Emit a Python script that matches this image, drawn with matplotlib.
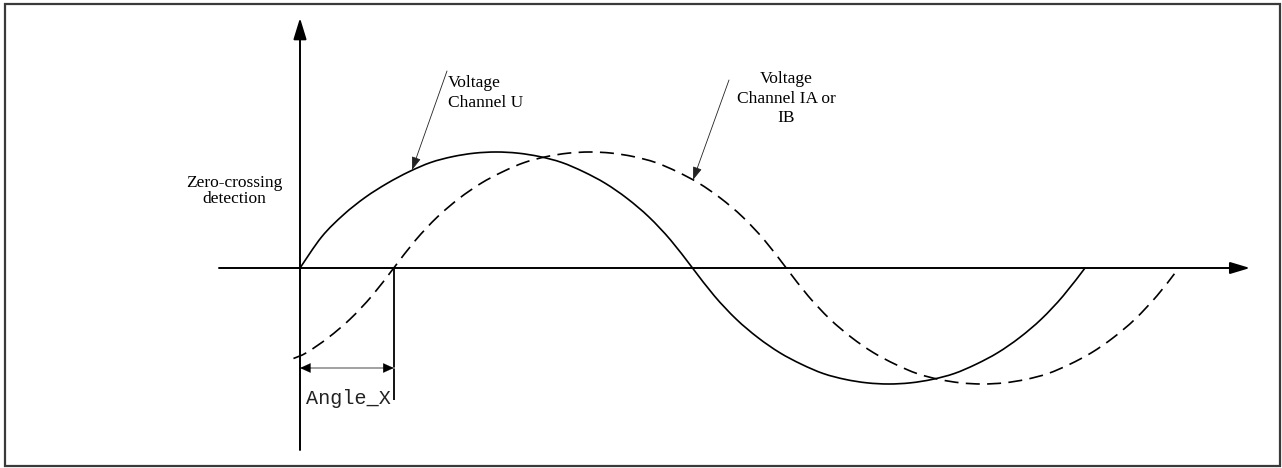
import numpy as np
import matplotlib
matplotlib.use("Agg")
import matplotlib.pyplot as plt
from matplotlib.path import Path
from matplotlib.patches import PathPatch, Rectangle

# ---------------- data ----------------
# phase in degrees, amplitude normalised to the peak
phase_deg = [0, 10, 20, 30, 40, 50, 60, 70, 80, 90, 100, 110, 120, 130, 140, 150,
             160, 170, 180, 190, 200, 210, 220, 230, 240, 250, 260, 270, 280, 290,
             300, 310, 320, 330, 340, 350, 360]
u_values = [0.00, 0.27, 0.46, 0.61, 0.73, 0.83, 0.91, 0.96, 0.99, 1.00, 0.99, 0.96,
            0.91, 0.83, 0.73, 0.60, 0.44, 0.24, 0.00, -0.24, -0.44, -0.60, -0.73,
            -0.83, -0.91, -0.96, -0.99, -1.00, -0.99, -0.96, -0.91, -0.83, -0.73,
            -0.60, -0.44, -0.24, 0.00]

ia_phase_deg = [-46, -40, -30, -20, -10, 0, 10, 20, 30, 40, 50, 60, 70, 80, 90, 100,
                110, 120, 130, 140, 150, 160, 170, 180, 190, 200, 210, 220, 230, 240,
                250, 260, 270, 280, 290, 300, 310, 320, 330, 340, 350, 358]
ia_values = [-0.78, -0.73, -0.60, -0.44, -0.24, 0.00, 0.24, 0.44, 0.60, 0.73, 0.83,
             0.91, 0.96, 0.99, 1.00, 0.99, 0.96, 0.91, 0.83, 0.73, 0.60, 0.44, 0.24,
             0.00, -0.24, -0.44, -0.60, -0.73, -0.83, -0.91, -0.96, -0.99, -1.00,
             -0.99, -0.96, -0.91, -0.83, -0.73, -0.60, -0.44, -0.24, -0.05]

angle_x_deg = 43  # phase lag of channel IA/IB

label_u = ["Voltage", "Channel U"]
label_ia = ["Voltage", "Channel IA or", "IB"]
label_zc = ["Zero-crossing", "detection"]
label_angle = "Angle_X"

# ---------------- layout ----------------
W, H = 1282, 468
X0, Y0 = 300, 268              # pixel position of the origin
PX_PER_DEG = 785 / 360
PX_PER_UNIT = 116

fig = plt.figure(figsize=(W / 100, H / 100), dpi=100)
fig.patch.set_facecolor("white")
ax = fig.add_axes([0, 0, 1, 1])
ax.set_xlim(-X0 / PX_PER_DEG, (W - X0) / PX_PER_DEG)
ax.set_ylim((Y0 - H) / PX_PER_UNIT, Y0 / PX_PER_UNIT)
ax.axis("off")


def px(x, y):
    """pixel position -> data position (layout helper)"""
    return ((x - X0) / PX_PER_DEG, (Y0 - y) / PX_PER_UNIT)


def smooth_path(xs, ys):
    pts = np.column_stack([xs, ys]).astype(float)
    n = len(pts)
    verts = [pts[0]]
    codes = [Path.MOVETO]
    for i in range(n - 1):
        p0 = pts[i - 1] if i > 0 else pts[i]
        p1 = pts[i]
        p2 = pts[i + 1]
        p3 = pts[i + 2] if i + 2 < n else pts[i + 1]
        verts += [p1 + (p2 - p0) / 6, p2 - (p3 - p1) / 6, p2]
        codes += [Path.CURVE4] * 3
    return Path(verts, codes)


SERIF = ["Liberation Serif", "DejaVu Serif"]
FS = 12.5

# frame
fig.add_artist(Rectangle((5 / W, 1 - 466 / H), 1275 / W, 462 / H,
                         transform=fig.transFigure, fill=False,
                         edgecolor="#3a3a3a", lw=1.6))

# axes with arrows
ax.annotate("", xy=px(1250, 268), xytext=px(219, 268),
            arrowprops=dict(arrowstyle="-|>,head_length=12,head_width=3.6",
                            mutation_scale=1, lw=1.4, color="black",
                            shrinkA=0, shrinkB=0))
ax.annotate("", xy=px(300, 18), xytext=px(300, 450),
            arrowprops=dict(arrowstyle="-|>,head_length=13,head_width=4.0",
                            mutation_scale=1, lw=1.4, color="black",
                            shrinkA=0, shrinkB=0))

# curves
u_x = np.array(phase_deg, float)
ax.add_patch(PathPatch(smooth_path(u_x, u_values), fill=False,
                       edgecolor="black", lw=1.2, capstyle="butt"))
ia_x = np.array(ia_phase_deg, float) + angle_x_deg
ax.add_patch(PathPatch(smooth_path(ia_x, ia_values), fill=False,
                       edgecolor="black", lw=1.2, linestyle=(0, (8.4, 4.4)),
                       capstyle="butt"))

# Angle_X marker
ax.plot([angle_x_deg, angle_x_deg], [0, px(0, 400)[1]], color="black", lw=1.3,
        solid_capstyle="butt")
y_dim = px(0, 368)[1]
ax.plot([0, angle_x_deg], [y_dim, y_dim], color="#9a9a9a", lw=1.3)
head = 11 / PX_PER_DEG
for tip, tail in [(0, head), (angle_x_deg, angle_x_deg - head)]:
    ax.annotate("", xy=(tip, y_dim), xytext=(tail, y_dim),
                arrowprops=dict(arrowstyle="-|>,head_length=7.5,head_width=3.4",
                                mutation_scale=1, lw=0.1, color="black",
                                shrinkA=0, shrinkB=0))
ax.text(*px(348, 404), label_angle, family=["Liberation Mono", "DejaVu Sans Mono"],
        fontsize=14.5, color="#222222", ha="center", va="baseline")

# label annotations
ax.annotate("", xy=px(412, 170), xytext=px(447, 71),
            arrowprops=dict(arrowstyle="-|>,head_length=8,head_width=2.8",
                            mutation_scale=1, lw=0.6, color="#222222",
                            shrinkA=0, shrinkB=0))
ax.annotate("", xy=px(693, 180), xytext=px(729, 80),
            arrowprops=dict(arrowstyle="-|>,head_length=8,head_width=2.8",
                            mutation_scale=1, lw=0.6, color="#222222",
                            shrinkA=0, shrinkB=0))

for line, yb in zip(label_u, [87, 107]):
    ax.text(*px(448, yb), line, family=SERIF, fontsize=FS, ha="left", va="baseline")
for line, yb in zip(label_ia, [83, 103, 122]):
    ax.text(*px(786, yb), line, family=SERIF, fontsize=FS, ha="center", va="baseline")
for line, yb in zip(label_zc, [187, 203]):
    ax.text(*px(234, yb), line, family=SERIF, fontsize=FS, ha="center", va="baseline")

fig.savefig("out.png", dpi=100, facecolor="white")
